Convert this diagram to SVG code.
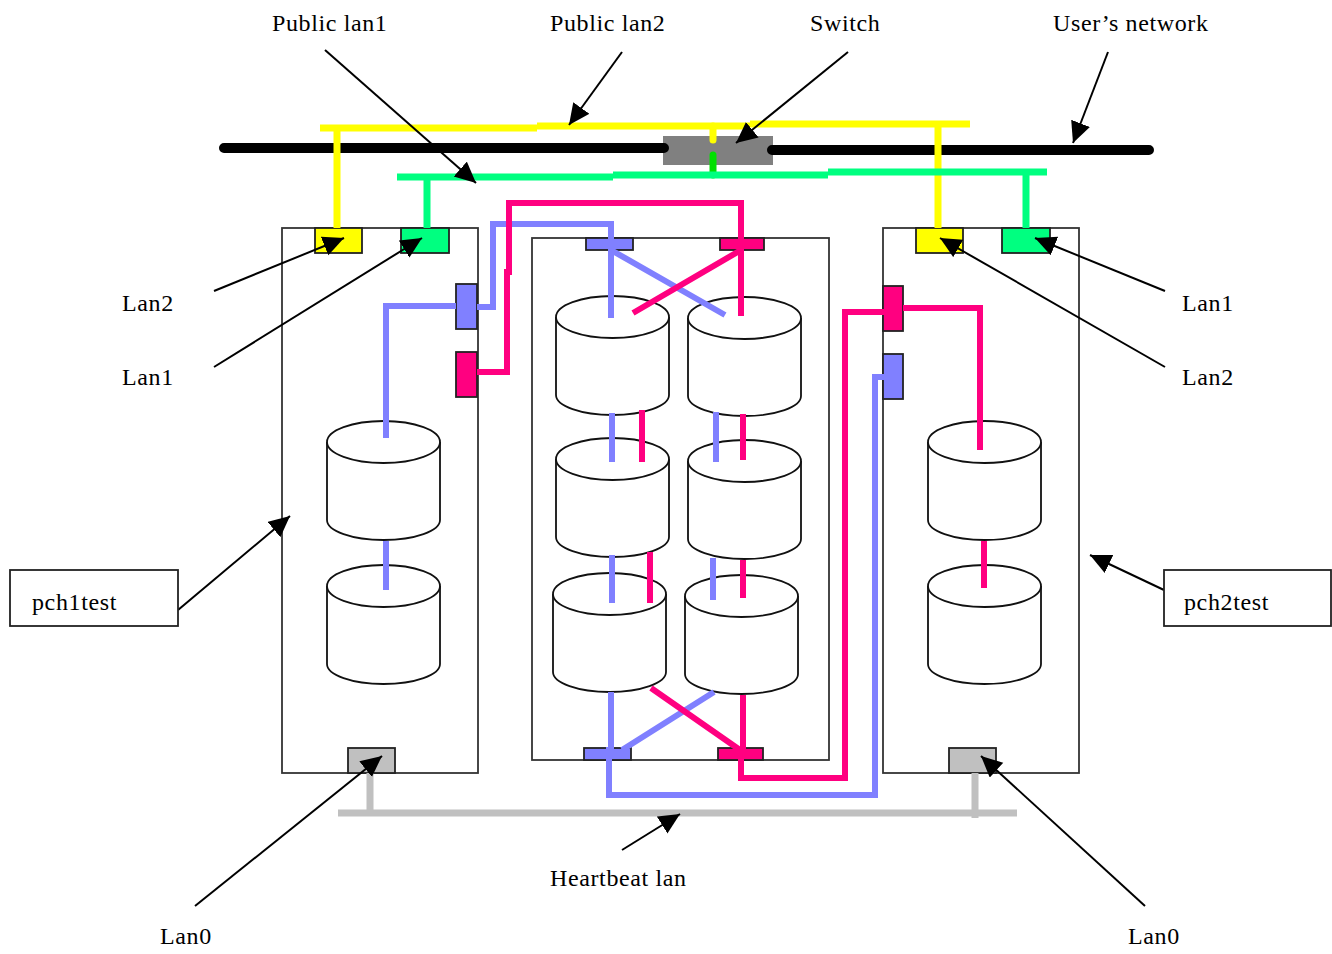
<svg xmlns="http://www.w3.org/2000/svg" xmlns:xlink="http://www.w3.org/1999/xlink" width="1332" height="954" viewBox="0 0 1332 954">
<style>
text{font-family:"Liberation Serif","Times New Roman",serif;font-size:24px;letter-spacing:.62px;fill:#000}
.box{fill:#fff;stroke:#333;stroke-width:1.8}
.port{stroke:#222;stroke-width:1.8}
.cyl{fill:#fff;stroke:#111;stroke-width:1.8}
.w{fill:none;stroke-width:7;stroke-linejoin:miter}
.y{stroke:#ffff00}.g{stroke:#00ff80}.b{stroke:#8080ff;stroke-width:6}.p{stroke:#ff0080;stroke-width:6}.k{stroke:#000;stroke-width:10;stroke-linecap:round}.h{stroke:#c0c0c0}
.a{fill:none;stroke:#000;stroke-width:2;marker-end:url(#arr)}
.lb{fill:#fff;stroke:#222;stroke-width:1.8}
</style>
<defs>
<marker id="arr" markerUnits="userSpaceOnUse" markerWidth="23" markerHeight="22" refX="21" refY="10" orient="auto"><path d="M0 0L21 10L0 20Z" fill="#000"/></marker>
<g id="cylinder"><path class="cyl" d="M0 21A56.5 21 0 0 1 113 21V99A56.5 20 0 0 1 0 99Z"/><path class="cyl" d="M0 21A56.5 21 0 0 0 113 21" fill="none"/></g>
</defs>
<g id="pch1test"><rect class="box" x="282" y="228" width="196" height="545"/></g>
<g id="storage"><rect class="box" x="532" y="238" width="297" height="522"/></g>
<g id="pch2test"><rect class="box" x="883" y="228" width="196" height="545"/></g>
<g id="cylinders">
<use id="c1" xlink:href="#cylinder" x="327" y="421"/><use id="c2" xlink:href="#cylinder" x="327" y="565"/>
<use id="c3" xlink:href="#cylinder" x="928" y="421"/><use id="c4" xlink:href="#cylinder" x="928" y="565"/>
<use id="c5" xlink:href="#cylinder" x="556" y="296"/><use id="c6" xlink:href="#cylinder" x="688" y="297"/>
<use id="c7" xlink:href="#cylinder" x="556" y="438"/><use id="c8" xlink:href="#cylinder" x="688" y="440"/>
<use id="c9" xlink:href="#cylinder" x="553" y="573"/><use id="c10" xlink:href="#cylinder" x="685" y="575"/>
</g>
<g id="switch"><rect x="663" y="136" width="110" height="29" fill="#808080"/></g>
<g id="ports">
<rect class="port" x="315" y="228" width="47" height="25" fill="#ffff00"/>
<rect class="port" x="401" y="228" width="48" height="25" fill="#00ff80"/>
<rect class="port" x="456" y="284" width="21" height="45" fill="#8080ff"/>
<rect class="port" x="456" y="352" width="21" height="45" fill="#ff0080"/>
<rect class="port" x="916" y="228" width="47" height="25" fill="#ffff00"/>
<rect class="port" x="1002" y="228" width="48" height="25" fill="#00ff80"/>
<rect class="port" x="883" y="286" width="20" height="45" fill="#ff0080"/>
<rect class="port" x="883" y="354" width="20" height="45" fill="#8080ff"/>
<rect class="port" x="586" y="238" width="47" height="12" fill="#8080ff"/>
<rect class="port" x="720" y="238" width="44" height="12" fill="#ff0080"/>
<rect class="port" x="584" y="748" width="47" height="12" fill="#8080ff"/>
<rect class="port" x="718" y="748" width="45" height="12" fill="#ff0080"/>
<rect class="port" x="348" y="748" width="47" height="25" fill="#c0c0c0"/>
<rect class="port" x="949" y="748" width="47" height="25" fill="#c0c0c0"/>
</g>
<g id="connectors">
<path class="w k" d="M224 148H664M772 150H1149"/>
<path class="w y" d="M320 128H537M537 126H750M750 124H970M337 128V228M934 124H938V228"/>
<path class="w y" stroke-linecap="round" d="M713 126V140"/>
<path class="w" stroke="#00e000" stroke-linecap="round" d="M713 155V175"/>
<path class="w g" d="M397 177H613M613 175H828M828 172H1047M427 177V228M1026 172V228"/>
<path class="w b" d="M456 306H386V438M477 307H493V224H611V318M611 250L725 315M612 413V462M716 412V462M612 555V603M713 558V600M611 692V750H609V795H875V377H884M714 692L622 750M386 541V590"/>
<path class="w p" d="M477 372H507V272H509V203H741V316M741 250L633 313M642 410V462M743 414V460M650 552V603M743 560V598M651 688L740 750M743 695V750H741V778H845V312H884M903 308H980V450M984 541V588"/>
<path class="w h" d="M338 813H1017M370 773V813M975 773V818"/>
<path class="a" d="M325 50L476 183"/>
<path class="a" d="M622 52L569 125"/>
<path class="a" d="M848 52L736 143"/>
<path class="a" d="M1108 52L1073 143"/>
<path class="a" d="M214 291L344 238"/>
<path class="a" d="M214 367L422 238"/>
<path class="a" d="M1165 291L1035 238"/>
<path class="a" d="M1165 367L940 238"/>
<path class="a" d="M178 610L290 516"/>
<path class="a" d="M1164 590L1090 555"/>
<path class="a" d="M195 906L382 756"/>
<path class="a" d="M1145 906L981 756"/>
<path class="a" d="M622 850L680 814"/>
</g>
<g id="label-pch1test"><rect class="lb" x="10" y="570" width="168" height="56"/><text x="32" y="610">pch1test</text></g>
<g id="label-pch2test"><rect class="lb" x="1164" y="570" width="167" height="56"/><text x="1184" y="610">pch2test</text></g>
<g id="labels">
<text x="272" y="31">Public lan1</text>
<text x="550" y="31">Public lan2</text>
<text x="810" y="31">Switch</text>
<text x="1053" y="31">User’s network</text>
<text x="122" y="311">Lan2</text>
<text x="122" y="385">Lan1</text>
<text x="1182" y="311">Lan1</text>
<text x="1182" y="385">Lan2</text>
<text x="550" y="886">Heartbeat lan</text>
<text x="160" y="944">Lan0</text>
<text x="1128" y="944">Lan0</text>
</g>
</svg>
